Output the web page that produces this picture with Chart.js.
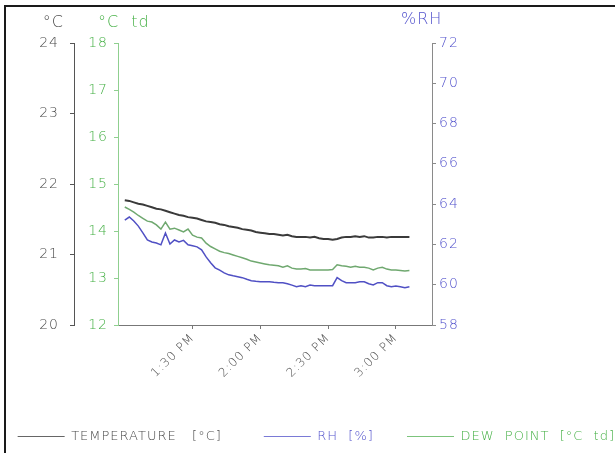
<!DOCTYPE html>
<html><head><meta charset="utf-8">
<script src="https://cdn.jsdelivr.net/npm/chart.js@4"></script>
<style>html,body{margin:0;padding:0;background:#fff}#wrap{width:615px;height:453px;position:relative}</style>
</head><body><div id="wrap"><canvas id="c" width="615" height="453"></canvas></div>
<script>
// minutes after 12:00 noon
const minutes = [60,62,64,66,68,70,72,74,76,78,
  80,82,84,86,88,90,92,94,96,98,
  100,102,104,106,108,110,112,114,116,118,
  120,122,124,126,128,130,132,134,136,138,
  140,142,144,146,148,150,152,154,156,158,
  160,162,164,166,168,170,172,174,176,178,
  180,182,184,186];
const temperature = [21.77,21.76,21.74,21.72,21.71,21.69,21.67,21.65,21.64,21.62,
  21.60,21.58,21.56,21.55,21.53,21.52,21.51,21.49,21.47,21.46,
  21.45,21.43,21.42,21.40,21.39,21.38,21.36,21.35,21.34,21.32,
  21.31,21.30,21.29,21.29,21.28,21.27,21.28,21.26,21.25,21.25,
  21.25,21.24,21.25,21.23,21.22,21.22,21.21,21.22,21.24,21.25,
  21.25,21.26,21.25,21.26,21.24,21.24,21.25,21.25,21.24,21.25,
  21.25,21.25,21.25,21.25];
const dewPoint = [14.51,14.46,14.40,14.33,14.27,14.21,14.19,14.13,14.04,14.19,
  14.04,14.06,14.02,13.98,14.04,13.91,13.87,13.85,13.74,13.67,
  13.62,13.57,13.54,13.52,13.49,13.46,13.43,13.40,13.36,13.34,
  13.32,13.30,13.28,13.27,13.26,13.23,13.26,13.21,13.19,13.19,
  13.20,13.17,13.17,13.17,13.17,13.17,13.18,13.28,13.26,13.25,
  13.23,13.25,13.23,13.23,13.21,13.17,13.21,13.23,13.19,13.17,
  13.17,13.16,13.15,13.16];
const rh = [63.21,63.36,63.16,62.91,62.57,62.22,62.12,62.07,61.98,62.57,
  62.02,62.22,62.12,62.20,61.98,61.93,61.88,61.73,61.38,61.09,
  60.84,60.72,60.59,60.49,60.44,60.40,60.35,60.27,60.20,60.17,
  60.15,60.15,60.15,60.12,60.10,60.10,60.05,59.98,59.90,59.95,
  59.90,59.98,59.95,59.95,59.95,59.95,59.95,60.35,60.20,60.10,
  60.10,60.10,60.15,60.15,60.05,59.99,60.10,60.10,59.95,59.90,
  59.93,59.90,59.85,59.90];
const tickMinutes = [90,120,150,180];
const tickLabels = ['1:30 PM','2:00 PM','2:30 PM','3:00 PM'];
const seriesNames = ['TEMPERATURE   [°C]', 'RH  [%]', 'DEW  POINT  [°C  td]'];
const axisTitles = ['°C', '°C  td', '%RH'];

const FONT = "'DejaVu Sans', sans-serif";
const W = 200;
const C_T = '#3a3a3a', C_RH = '#5050c4', C_DP = '#6fa86f';
const T_T = '#4a4a4a', T_RH = '#5252cc', T_DP = '#45b045';

const pts = arr => arr.map((v,i) => ({x: minutes[i], y: v}));

const frameAndTitles = {
  id: 'frameAndTitles',
  afterInit(chart){ chart.ctx.letterSpacing = '1px'; },
  beforeDraw(chart){
    const ctx = chart.ctx;
    ctx.save();
    ctx.fillStyle = '#fff';
    ctx.fillRect(0,0,chart.width,chart.height);
    ctx.strokeStyle = '#1a1a1a';
    ctx.lineWidth = 2;
    ctx.strokeRect(5, 6, 640, 480);
    ctx.restore();
  },
  afterDraw(chart){
    const ctx = chart.ctx;
    const s = chart.scales;
    ctx.save();
    ctx.font = W + " 16px " + FONT;
    ctx.textBaseline = 'middle';
    ctx.textAlign = 'right';
    ctx.fillStyle = T_T;
    ctx.fillText(axisTitles[0], s.yT.right - 10, 23);
    ctx.textAlign = 'left';
    ctx.fillStyle = T_DP;
    ctx.fillText(axisTitles[1], s.yD.left + 24, 23);
    ctx.fillStyle = T_RH;
    ctx.fillText(axisTitles[2], s.yRH.left - 31, 20);
    ctx.restore();
  }
};

new Chart(document.getElementById('c'), {
  type: 'line',
  data: {
    datasets: [
      {label: seriesNames[0], data: pts(temperature), yAxisID: 'yT', borderColor: C_T, backgroundColor: C_T, borderWidth: 2},
      {label: seriesNames[1], data: pts(rh), yAxisID: 'yRH', borderColor: C_RH, backgroundColor: C_RH, borderWidth: 1.5},
      {label: seriesNames[2], data: pts(dewPoint), yAxisID: 'yD', borderColor: C_DP, backgroundColor: C_DP, borderWidth: 1.5}
    ]
  },
  options: {
    responsive: false,
    animation: false,
    devicePixelRatio: 1,
    parsing: false,
    elements: {point: {radius: 0}, line: {tension: 0}},
    layout: {padding: {top: 43, left: 0, right: 0, bottom: 0}},
    plugins: {
      tooltip: {enabled: false},
      legend: {
        position: 'bottom', align: 'end',
        labels: {
          boxWidth: 47, boxHeight: 1, padding: 0,
          font: {family: FONT, size: 13, weight: W},
          generateLabels(chart){
            const extra = ['\u2003\u2003\u2003', '\u2003\u2003 ', ''];
            const colors = [T_T, T_RH, T_DP];
            const lines = ['#666', '#7a7ad6', '#7cc47c'];
            return chart.data.datasets.map((d,i) => ({
              text: d.label + extra[i], fillStyle: lines[i], strokeStyle: lines[i],
              lineWidth: 0, fontColor: colors[i], datasetIndex: i, hidden: false
            }));
          }
        }
      }
    },
    scales: {
      x: {
        type: 'linear', min: 57, max: 196,
        afterBuildTicks(s){ s.ticks = tickMinutes.map(v => ({value: v})); },
        afterFit(s){ s.height = 105; },
        border: {display: true, color: '#777', width: 1},
        grid: {display: true, drawOnChartArea: false, drawTicks: true, tickLength: 4, color: '#777'},
        ticks: {
          autoSkip: false, minRotation: 45, maxRotation: 45, padding: 2,
          color: '#4a4a4a', font: {family: FONT, size: 12, weight: W},
          callback(v){ const i = tickMinutes.indexOf(v); return i >= 0 ? tickLabels[i] : ''; }
        }
      },
      yT: {
        position: 'left', weight: 2, min: 20, max: 24,
        afterFit(s){ s.width = 74; },
        border: {display: true, color: '#555', width: 1},
        grid: {drawOnChartArea: false, drawTicks: true, tickLength: 4, color: '#555'},
        ticks: {stepSize: 1, padding: 11, color: T_T, font: {family: FONT, size: 14, weight: W}}
      },
      yD: {
        position: 'left', weight: 1, min: 12, max: 18,
        afterFit(s){ s.width = 44; },
        border: {display: true, color: '#8fcf8f', width: 1},
        grid: {drawOnChartArea: false, drawTicks: true, tickLength: 4, color: '#8fcf8f'},
        ticks: {stepSize: 1, padding: 6, color: T_DP, font: {family: FONT, size: 14, weight: W}}
      },
      yRH: {
        position: 'right', min: 58, max: 72,
        afterFit(s){ s.width = 183; },
        border: {display: true, color: '#8a8a8a', width: 1},
        grid: {drawOnChartArea: false, drawTicks: true, tickLength: 4, color: '#8a8a8a'},
        ticks: {stepSize: 2, padding: 3, color: T_RH, font: {family: FONT, size: 14, weight: W}}
      }
    }
  },
  plugins: [frameAndTitles]
});
</script></body></html>
